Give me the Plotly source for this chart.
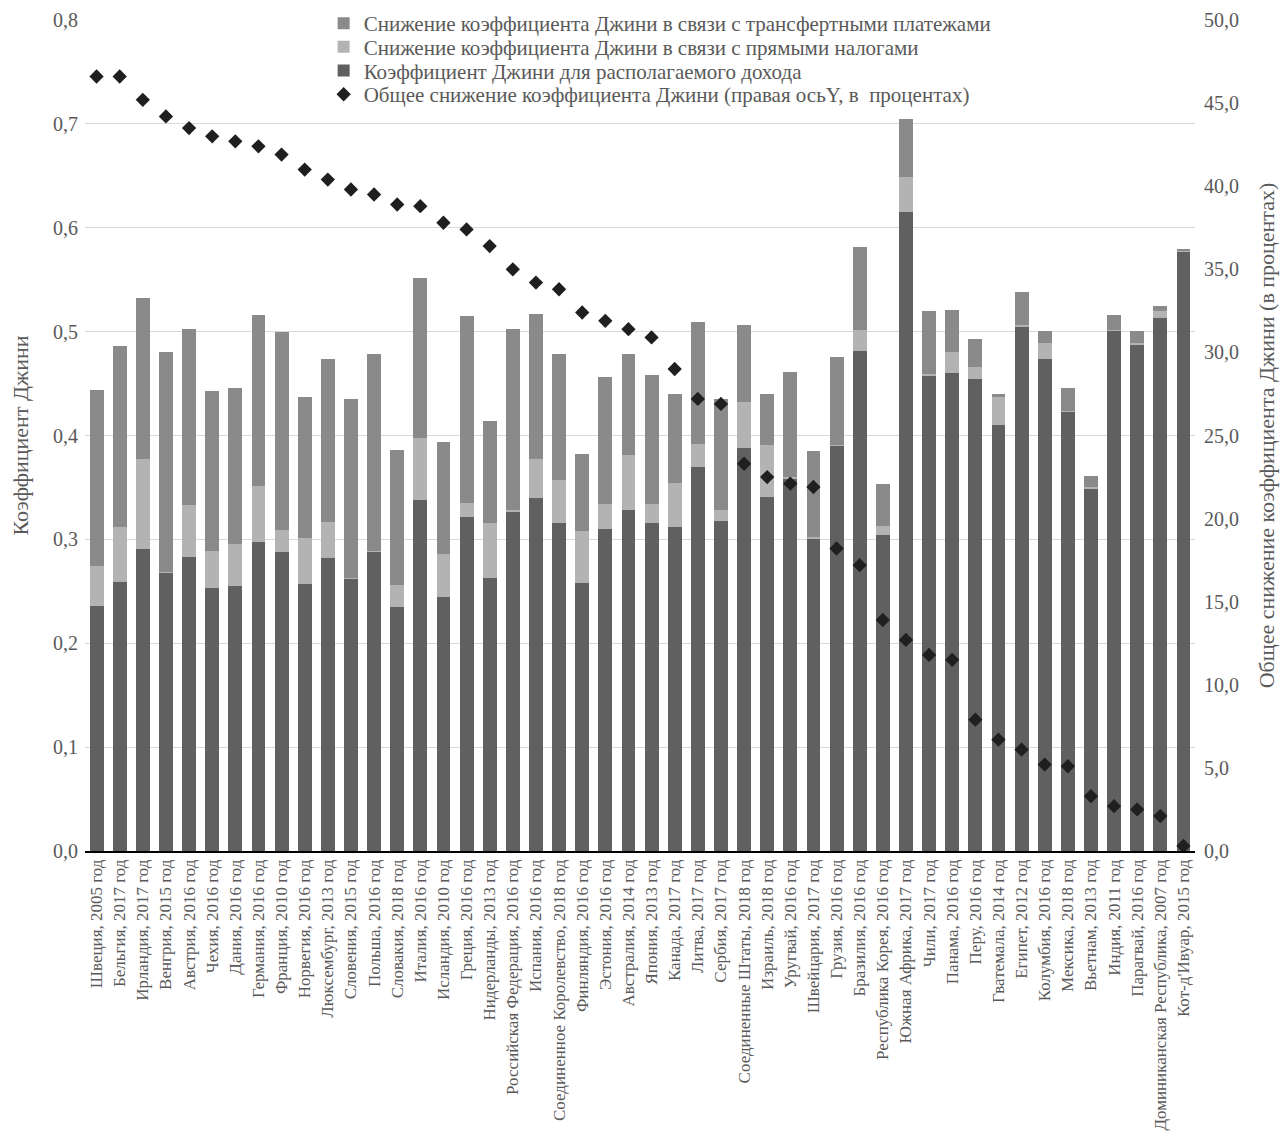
import plotly.graph_objects as go

categories = [
    "Швеция, 2005 год", "Бельгия, 2017 год", "Ирландия, 2017 год", "Венгрия, 2015 год",
    "Австрия, 2016 год", "Чехия, 2016 год", "Дания, 2016 год", "Германия, 2016 год",
    "Франция, 2010 год", "Норвегия, 2016 год", "Люксембург, 2013 год", "Словения, 2015 год",
    "Польша, 2016 год", "Словакия, 2018 год", "Италия, 2016 год", "Исландия, 2010 год",
    "Греция, 2016 год", "Нидерланды, 2013 год", "Российская Федерация, 2016 год",
    "Испания, 2016 год", "Соединенное Королевство, 2018 год", "Финляндия, 2016 год",
    "Эстония, 2016 год", "Австралия, 2014 год", "Япония, 2013 год", "Канада, 2017 год",
    "Литва, 2017 год", "Сербия, 2017 год", "Соединенные Штаты, 2018 год", "Израиль, 2018 год",
    "Уругвай, 2016 год", "Швейцария, 2017 год", "Грузия, 2016 год", "Бразилия, 2016 год",
    "Республика Корея, 2016 год", "Южная Африка, 2017 год", "Чили, 2017 год",
    "Панама, 2016 год", "Перу, 2016 год", "Гватемала, 2014 год", "Египет, 2012 год",
    "Колумбия, 2016 год", "Мексика, 2018 год", "Вьетнам, 2013 год", "Индия, 2011 год",
    "Парагвай, 2016 год", "Доминиканская Республика, 2007 год", "Кот-д'Ивуар, 2015 год",
]

# Gini coefficient for disposable income (bottom segment)
gini_disposable = [
    0.236, 0.259, 0.291, 0.268, 0.283, 0.253, 0.255, 0.297, 0.288, 0.257,
    0.282, 0.262, 0.288, 0.235, 0.338, 0.245, 0.322, 0.263, 0.327, 0.340,
    0.316, 0.258, 0.310, 0.328, 0.316, 0.312, 0.370, 0.318, 0.388, 0.341,
    0.359, 0.301, 0.390, 0.481, 0.304, 0.615, 0.458, 0.460, 0.454, 0.410,
    0.505, 0.474, 0.423, 0.349, 0.501, 0.488, 0.513, 0.577,
]
# Reduction due to direct taxes (middle segment)
reduction_taxes = [
    0.038, 0.053, 0.086, 0.001, 0.050, 0.036, 0.041, 0.054, 0.021, 0.044,
    0.035, 0.001, 0.001, 0.021, 0.060, 0.041, 0.013, 0.053, 0.001, 0.037,
    0.041, 0.050, 0.024, 0.053, 0.018, 0.042, 0.022, 0.010, 0.044, 0.050,
    0.001, 0.001, 0.001, 0.021, 0.009, 0.034, 0.001, 0.020, 0.012, 0.027,
    0.001, 0.015, 0.001, 0.001, 0.001, 0.001, 0.007, 0.001,
]
# Reduction due to transfers (top segment)
reduction_transfers = [
    0.170, 0.174, 0.155, 0.211, 0.170, 0.154, 0.150, 0.165, 0.191, 0.136,
    0.157, 0.172, 0.189, 0.130, 0.154, 0.108, 0.180, 0.098, 0.175, 0.140,
    0.121, 0.074, 0.122, 0.097, 0.124, 0.086, 0.117, 0.107, 0.074, 0.049,
    0.101, 0.083, 0.085, 0.079, 0.040, 0.056, 0.061, 0.041, 0.027, 0.003,
    0.032, 0.012, 0.022, 0.011, 0.014, 0.012, 0.005, 0.001,
]
# Total Gini reduction, percent (right axis)
total_reduction_pct = [
    46.6, 46.6, 45.2, 44.2, 43.5, 43.0, 42.7, 42.4, 41.9, 41.0,
    40.4, 39.8, 39.5, 38.9, 38.8, 37.8, 37.4, 36.4, 35.0, 34.2,
    33.8, 32.4, 31.9, 31.4, 30.9, 29.0, 27.2, 26.9, 23.3, 22.5,
    22.1, 21.9, 18.2, 17.2, 13.9, 12.7, 11.8, 11.5, 7.9, 6.7,
    6.1, 5.2, 5.1, 3.3, 2.7, 2.5, 2.1, 0.3,
]

left_ticks = [0.0, 0.1, 0.2, 0.3, 0.4, 0.5, 0.6, 0.7, 0.8]
right_ticks = [0, 5, 10, 15, 20, 25, 30, 35, 40, 45, 50]

FONT = "Liberation Serif, Times New Roman, serif"
TXT = "#595959"

fig = go.Figure()
fig.add_trace(go.Bar(
    x=categories, y=gini_disposable, name="Коэффициент Джини для располагаемого дохода",
    marker=dict(color="#606060", line=dict(width=0)), legendrank=3,
))
fig.add_trace(go.Bar(
    x=categories, y=reduction_taxes, name="Снижение коэффициента Джини в связи с прямыми налогами",
    marker=dict(color="#b3b3b3", line=dict(width=0)), legendrank=2,
))
fig.add_trace(go.Bar(
    x=categories, y=reduction_transfers,
    name="Снижение коэффициента Джини в связи с трансфертными платежами",
    marker=dict(color="#8a8a8a", line=dict(width=0)), legendrank=1,
))
fig.add_trace(go.Scatter(
    x=categories, y=total_reduction_pct, yaxis="y2", mode="markers",
    name="Общее снижение коэффициента Джини (правая осьY, в  процентах)",
    marker=dict(symbol="diamond", size=11, color="#1f1f1f"), legendrank=4,
))

fig.update_layout(
    width=1283, height=1141,
    barmode="stack", bargap=0.4,
    separators=", ",
    plot_bgcolor="white", paper_bgcolor="white",
    font=dict(family=FONT, color=TXT, size=16),
    margin=dict(l=85, r=88, t=20, b=290),
    showlegend=True,
    legend=dict(
        x=0.215, y=1.0, xanchor="left", yanchor="top",
        traceorder="normal", bgcolor="rgba(0,0,0,0)",
        font=dict(family=FONT, size=21, color=TXT),
        itemwidth=30, tracegroupgap=0,
    ),
    xaxis=dict(
        type="category", range=[-0.5, len(categories) - 0.5], automargin=False,
        tickangle=-90, tickfont=dict(family=FONT, size=17, color=TXT),
        showline=True, linecolor="#000000", linewidth=1.5, ticks="", showgrid=False,
    ),
    yaxis=dict(
        range=[0, 0.8], tickvals=left_ticks, tickformat=".1f", automargin=False,
        showgrid=True, gridcolor="#d9d9d9", gridwidth=1, zeroline=False,
        tickfont=dict(family=FONT, size=20, color=TXT),
        title=dict(text="Коэффициент Джини", font=dict(family=FONT, size=22, color=TXT), standoff=18),
        ticks="", ticklabelstandoff=6,
    ),
    yaxis2=dict(
        range=[0, 50], tickvals=right_ticks, tickformat=".1f", overlaying="y", side="right",
        showgrid=False, zeroline=False, automargin=False,
        tickfont=dict(family=FONT, size=20, color=TXT),
        title=dict(text="Общее снижение коэффициента Джини (в процентах)",
                   font=dict(family=FONT, size=22, color=TXT), standoff=20),
        ticks="", ticklabelstandoff=8,
    ),
)

# Compact the legend rows (the reference uses tight line spacing) and lift it to the top edge.
post_js = r"""
document.body.style.margin='0';
var gd = document.getElementById('{plot_id}');
var leg = gd ? gd.querySelector('g.legend') : null;
if (leg) {
  var re = /translate\(\s*([-\d.e]+)[\s,]+([-\d.e]+)\s*\)/;
  var m = re.exec(leg.getAttribute('transform') || '');
  if (m) { leg.setAttribute('transform', 'translate(' + m[1] + ',3)'); }
  var items = Array.prototype.slice.call(leg.querySelectorAll('g.traces'));
  var rows = items.map(function (el) {
    var mm = re.exec(el.getAttribute('transform') || '');
    return {el: el, x: mm ? parseFloat(mm[1]) : 0, y: mm ? parseFloat(mm[2]) : 0};
  });
  rows.sort(function (a, b) { return a.y - b.y; });
  if (rows.length) {
    var y0 = rows[0].y;
    rows.forEach(function (r, i) {
      r.el.setAttribute('transform', 'translate(' + r.x + ',' + (y0 + i * 23.7) + ')');
    });
  }
}
"""

fig.write_html("out.html", config={"displayModeBar": False}, post_script=post_js)
